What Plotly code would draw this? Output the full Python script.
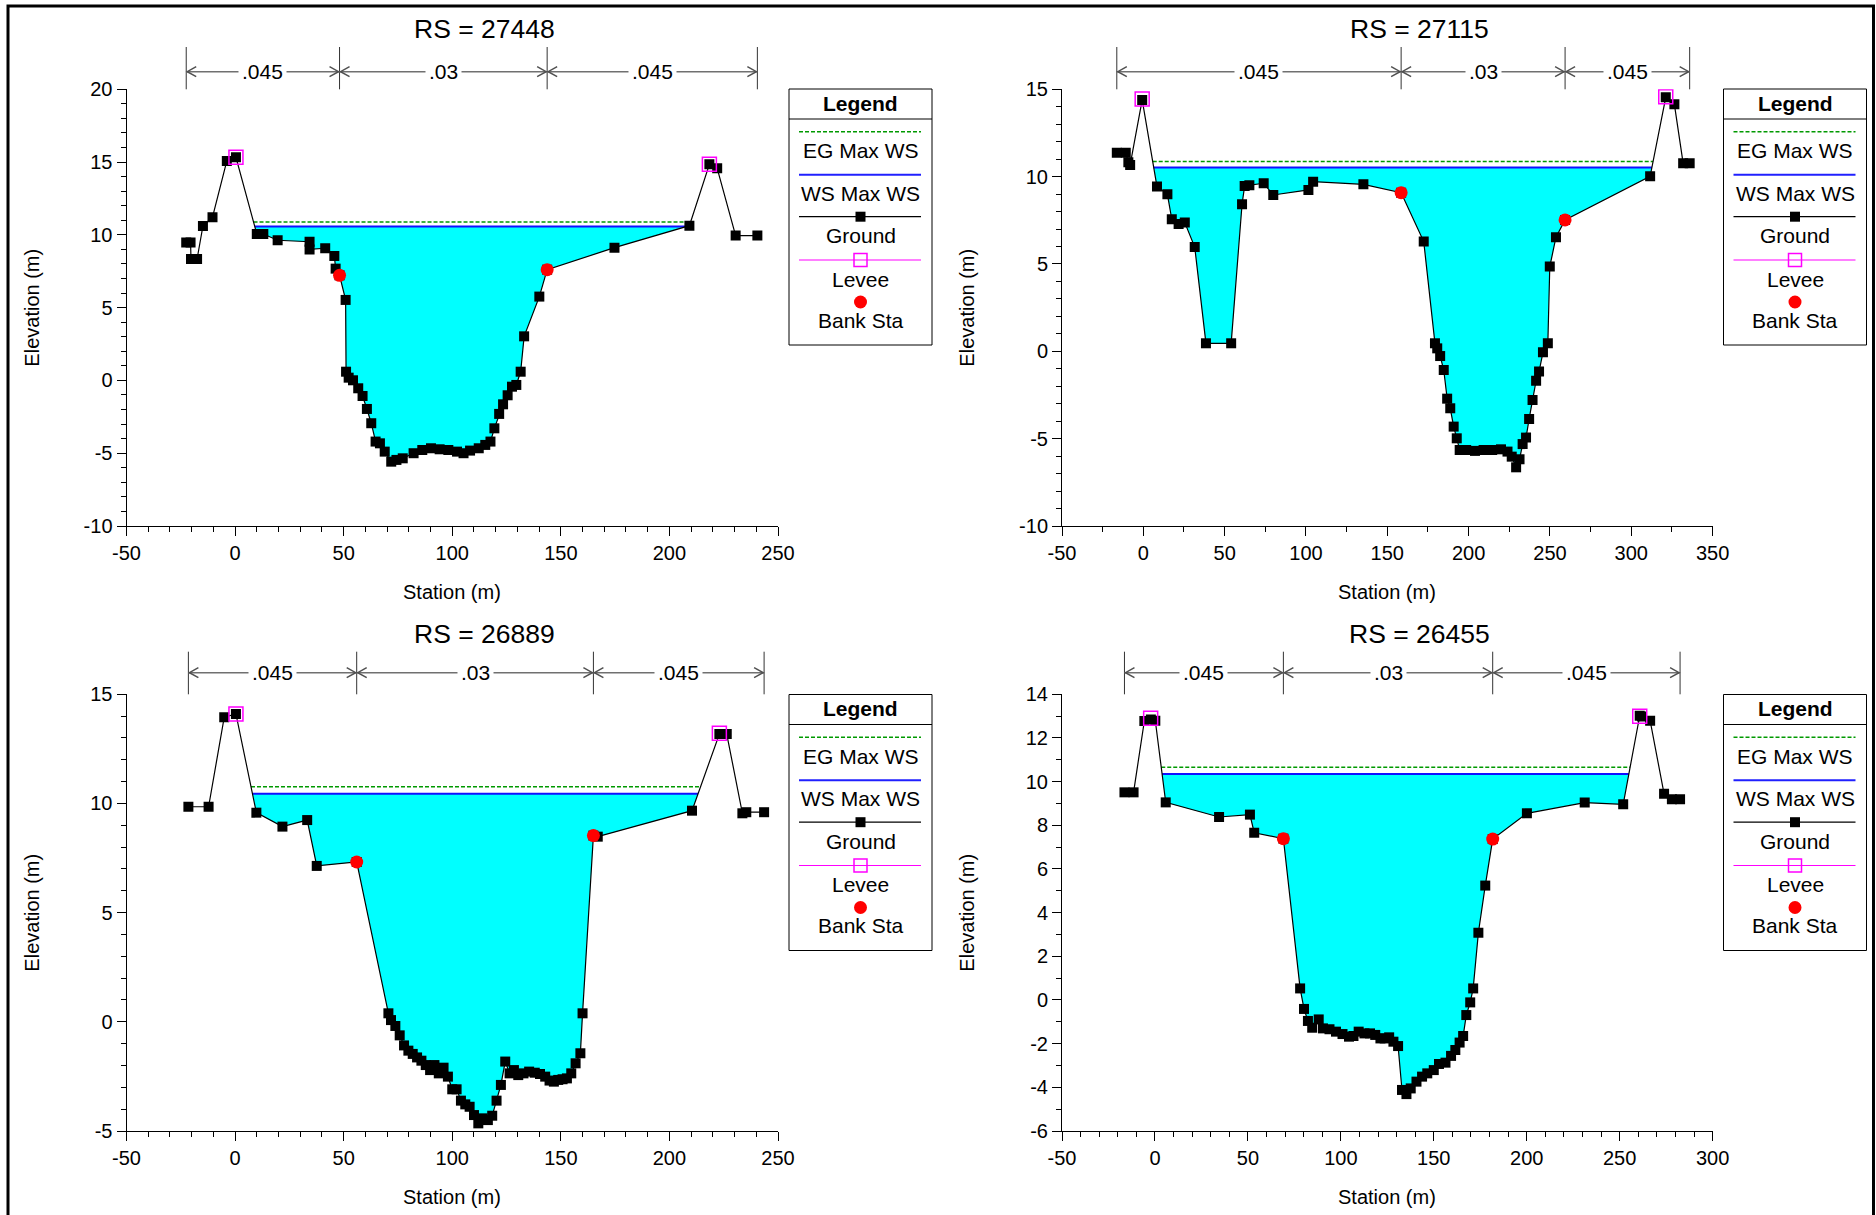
import numpy as np
import plotly.graph_objects as go

W, H = 1876, 1215
FONT = "Arial, 'Liberation Sans', sans-serif"

# ---------------- data ----------------
titles = ["RS = 27448", "RS = 27115", "RS = 26889", "RS = 26455"]
n_values = [".045", ".03", ".045"]
legend_labels = ["EG Max WS", "WS Max WS", "Ground", "Levee", "Bank Sta"]

# RS 27448
sta_27448 = [-22.5, -20.5, -20.3, -17.5, -14.8, -10.4, -3.8, 0.4, 10.0, 13.0, 19.6, 34.3, 34.3, 41.5, 45.7,
             46.3, 48.1, 50.9, 51.1, 52.3, 54.3, 56.7, 58.7, 60.7, 62.7, 64.7, 66.7, 68.9, 71.9, 74.3, 77.2,
             82.2, 86.2, 90.2, 94.2, 98.2, 102.2, 105.2, 108.2, 112.2, 115.2, 117.6, 119.4, 121.6, 123.4,
             125.5, 127.5, 129.5, 131.5, 133.1, 140.1, 143.7, 174.7, 209.2, 218.4, 222.0, 230.5, 240.5]
elev_27448 = [9.47, 9.47, 8.34, 8.34, 10.61, 11.21, 15.08, 15.33, 10.06, 10.06, 9.63, 9.53, 9.00, 9.08, 8.55,
              7.68, 7.22, 5.53, 0.60, 0.19, 0.01, -0.54, -1.07, -1.96, -2.94, -4.20, -4.32, -4.89, -5.58,
              -5.46, -5.35, -5.00, -4.78, -4.66, -4.73, -4.78, -4.89, -5.00, -4.82, -4.66, -4.43, -4.20,
              -3.29, -2.30, -1.64, -1.02, -0.43, -0.31, 0.60, 3.03, 5.76, 7.61, 9.12, 10.63, 14.85, 14.57,
              9.95, 9.95]
levee_sta_27448 = [0.4, 218.4]
levee_elev_27448 = [15.33, 14.85]
bank_sta_27448 = [48.1, 143.7]
ws_27448 = 10.57
eg_27448 = 10.89

# RS 27115
sta_27115 = [-16.3, -10.8, -9.2, -8.1, -0.7, 8.4, 14.8, 17.5, 21.7, 25.5, 31.6, 38.5, 54.0, 60.7, 62.3, 65.2,
             74.0, 79.9, 101.5, 104.4, 135.3, 158.5, 172.4, 179.3, 180.7, 182.5, 184.7, 186.8, 188.7, 190.8,
             192.7, 194.5, 198.5, 203.9, 209.2, 214.5, 219.9, 223.9, 226.5, 229.2, 231.3, 233.2, 235.3,
             237.2, 239.3, 241.5, 243.3, 245.7, 248.7, 249.9, 253.7, 259.3, 311.6, 321.2, 326.5, 331.9, 335.9]
elev_27115 = [11.37, 11.37, 10.82, 10.67, 14.39, 9.43, 8.99, 7.56, 7.29, 7.37, 5.97, 0.46, 0.46, 8.42, 9.47,
              9.50, 9.62, 8.95, 9.24, 9.71, 9.56, 9.08, 6.28, 0.46, 0.17, -0.27, -1.07, -2.71, -3.26, -4.31,
              -4.98, -5.65, -5.65, -5.70, -5.65, -5.65, -5.61, -5.74, -6.03, -6.64, -6.18, -5.31, -4.94,
              -3.87, -2.79, -1.68, -1.16, -0.06, 0.46, 4.85, 6.53, 7.52, 10.02, 14.54, 14.14, 10.76, 10.76]
levee_sta_27115 = [-0.7, 321.2]
levee_elev_27115 = [14.45, 14.58]
bank_sta_27115 = [158.5, 259.3]
ws_27115 = 10.53
eg_27115 = 10.86

# RS 26889
sta_26889 = [-21.5, -12.2, -5.0, 0.4, 9.8, 21.8, 33.2, 37.6, 56.0, 70.6, 71.8, 73.8, 75.8, 77.8, 79.8, 81.8,
             83.8, 85.8, 87.8, 89.8, 91.8, 93.8, 96.0, 98.0, 100.0, 102.0, 104.0, 106.0, 108.0, 110.0,
             112.0, 114.0, 116.4, 118.4, 120.4, 122.4, 124.4, 126.4, 128.4, 130.4, 132.8, 135.4, 138.0,
             140.4, 142.8, 144.8, 146.8, 148.8, 150.8, 152.8, 154.8, 156.8, 159.0, 160.0, 165.0, 167.0,
             210.4, 223.0, 226.4, 233.6, 235.4, 243.6]
elev_26889 = [9.85, 9.85, 13.95, 14.10, 9.58, 8.94, 9.24, 7.14, 7.32, 0.39, 0.08, -0.19, -0.62, -1.08, -1.32,
              -1.47, -1.63, -1.78, -1.98, -2.21, -1.98, -2.36, -2.10, -2.51, -3.09, -3.09, -3.61, -3.78,
              -3.89, -4.27, -4.65, -4.42, -4.50, -4.30, -3.61, -2.89, -1.82, -2.36, -2.21, -2.44, -2.36,
              -2.28, -2.33, -2.39, -2.51, -2.69, -2.74, -2.66, -2.63, -2.59, -2.36, -1.90, -1.44, 0.39,
              8.53, 8.48, 9.67, 13.18, 13.18, 9.55, 9.60, 9.60]
levee_sta_26889 = [0.4, 223.0]
levee_elev_26889 = [14.10, 13.22]
bank_sta_26889 = [56.0, 165.0]
ws_26889 = 10.44
eg_26889 = 10.77

# RS 26455
sta_26455 = [-16.4, -11.5, -5.7, -2.2, 0.2, 5.8, 34.5, 51.1, 53.4, 69.1, 78.1, 80.2, 82.3, 84.6, 88.1, 90.4,
             93.9, 97.4, 100.9, 104.4, 106.8, 109.6, 112.7, 115.7, 118.5, 121.3, 123.6, 126.0, 128.3, 130.8,
             132.9, 135.3, 137.6, 140.7, 143.7, 146.5, 150.0, 152.8, 156.3, 159.3, 161.6, 163.9, 165.8,
             167.5, 169.6, 171.2, 174.0, 177.7, 181.7, 200.1, 231.2, 251.9, 260.8, 262.0, 266.4, 273.9,
             278.1, 282.5]
elev_26455 = [9.51, 9.51, 12.78, 12.85, 12.79, 9.05, 8.38, 8.49, 7.66, 7.39, 0.53, -0.41, -0.96, -1.27,
              -0.89, -1.30, -1.34, -1.45, -1.56, -1.68, -1.65, -1.45, -1.53, -1.53, -1.60, -1.76, -1.76,
              -1.71, -1.91, -2.11, -4.12, -4.31, -4.05, -3.74, -3.51, -3.36, -3.21, -2.93, -2.87, -2.56,
              -2.29, -1.95, -1.65, -0.69, -0.11, 0.53, 3.08, 5.24, 7.37, 8.55, 9.04, 8.96, 13.02, 12.98,
              12.79, 9.44, 9.19, 9.19]
levee_sta_26455 = [-2.3, 260.8]
levee_elev_26455 = [12.9, 13.0]
bank_sta_26455 = [69.1, 181.7]
ws_26455 = 10.35
eg_26455 = 10.66

# tick values (labels written with a plain hyphen, as in the original)
x_ticks_27448 = [-50, 0, 50, 100, 150, 200, 250]
x_ticks_27115 = [-50, 0, 50, 100, 150, 200, 250, 300, 350]
x_ticks_26889 = [-50, 0, 50, 100, 150, 200, 250]
x_ticks_26455 = [-50, 0, 50, 100, 150, 200, 250, 300]
y_ticks_27448 = [-10, -5, 0, 5, 10, 15, 20]
y_ticks_27115 = [-10, -5, 0, 5, 10, 15]
y_ticks_26889 = [-5, 0, 5, 10, 15]
y_ticks_26455 = [-6, -4, -2, 0, 2, 4, 6, 8, 10, 12, 14]

x_ranges = [[-50, 250], [-50, 350], [-50, 250], [-50, 300]]
x_minor = [10, 25, 10, 10]
y_ranges = [[-10, 20], [-10, 15], [-5, 15], [-6, 14]]
x_ticks = [x_ticks_27448, x_ticks_27115, x_ticks_26889, x_ticks_26455]
y_ticks = [y_ticks_27448, y_ticks_27115, y_ticks_26889, y_ticks_26455]

panels = [
    (sta_27448, elev_27448, levee_sta_27448, levee_elev_27448, bank_sta_27448, ws_27448, eg_27448),
    (sta_27115, elev_27115, levee_sta_27115, levee_elev_27115, bank_sta_27115, ws_27115, eg_27115),
    (sta_26889, elev_26889, levee_sta_26889, levee_elev_26889, bank_sta_26889, ws_26889, eg_26889),
    (sta_26455, elev_26455, levee_sta_26455, levee_elev_26455, bank_sta_26455, ws_26455, eg_26455),
]

# ---------------- layout geometry (pixels) ----------------
col_x = [(126.5, 778.0), (1062.0, 1712.6)]
row_top = [89.3, 694.3]
row_bot = [526.0, 1131.0]
title_y = [28.5, 634.0]
arrow_y = [71.7, 672.7]
vline_top = [47.0, 651.7]
COL_DX = 935.0
LEG_DY = 605.5


def px(x):
    return x / W


def py(y):
    return 1 - y / H


def wet_extent(sta, elev, level):
    sta = np.asarray(sta, float)
    elev = np.asarray(elev, float)
    i0 = int(np.argmin(elev))
    i = i0
    while i > 0 and elev[i - 1] < level:
        i -= 1
    a, b = i - 1, i
    xl = sta[a] + (level - elev[a]) * (sta[b] - sta[a]) / (elev[b] - elev[a])
    j = i0
    while j < len(sta) - 1 and elev[j + 1] < level:
        j += 1
    a, b = j, j + 1
    xr = sta[a] + (level - elev[a]) * (sta[b] - sta[a]) / (elev[b] - elev[a])
    return xl, xr, i, j


fig = go.Figure()
shapes = []
annotations = []
layout_axes = {}

for k, (sta, elev, lsta, lelev, bsta, ws, eg) in enumerate(panels):
    col, row = k % 2, k // 2
    s = "" if k == 0 else str(k + 1)
    xa, ya = "x" + s, "y" + s
    x0, x1 = col_x[col]
    layout_axes["xaxis" + s] = dict(
        domain=[px(x0), px(x1)], range=x_ranges[k], anchor=ya, showline=True, linecolor="black",
        linewidth=1, ticks="outside", ticklen=9, tickwidth=1, tickcolor="black",
        tickmode="array", tickvals=x_ticks[k], ticktext=[str(v) for v in x_ticks[k]],
        minor=dict(tickmode="linear", dtick=x_minor[k], tick0=0, ticks="outside", ticklen=5,
                   tickcolor="black", tickwidth=1),
        showgrid=False, zeroline=False, fixedrange=True, automargin=False,
        tickfont=dict(size=20, color="black", family=FONT))
    layout_axes["yaxis" + s] = dict(
        domain=[py(row_bot[row]), py(row_top[row])], range=y_ranges[k], anchor=xa, showline=True,
        linecolor="black", linewidth=1, ticks="outside", ticklen=9, tickwidth=1, tickcolor="black",
        tickmode="array", tickvals=y_ticks[k], ticktext=[str(v) for v in y_ticks[k]],
        minor=dict(tickmode="linear", dtick=1, tick0=0, ticks="outside", ticklen=5, tickcolor="black",
                   tickwidth=1),
        showgrid=False, zeroline=False, fixedrange=True, automargin=False,
        tickfont=dict(size=20, color="black", family=FONT))

    sta_a = np.asarray(sta, float)
    elev_a = np.asarray(elev, float)
    wl, wr, i, j = wet_extent(sta, elev, ws)
    el, er, _, _ = wet_extent(sta, elev, eg)

    # water fill
    poly_x = [wl] + list(sta_a[i:j + 1]) + [wr]
    poly_y = [ws] + list(elev_a[i:j + 1]) + [ws]
    fig.add_trace(go.Scatter(x=poly_x, y=poly_y, fill="toself", fillcolor="#00FFFF", mode="lines",
                             line=dict(width=0, color="#00FFFF"), hoverinfo="skip", showlegend=False,
                             xaxis=xa, yaxis=ya))
    # WS
    fig.add_trace(go.Scatter(x=[wl, wr], y=[ws, ws], mode="lines", line=dict(color="#1010FF", width=2),
                             showlegend=False, xaxis=xa, yaxis=ya))
    # EG
    fig.add_trace(go.Scatter(x=[el, er], y=[eg, eg], mode="lines",
                             line=dict(color="#009900", width=1.5, dash="4px,2px"),
                             showlegend=False, xaxis=xa, yaxis=ya))
    # Ground
    fig.add_trace(go.Scatter(x=sta, y=elev, mode="lines+markers", line=dict(color="black", width=1.2),
                             marker=dict(symbol="square", size=10, color="black"),
                             showlegend=False, xaxis=xa, yaxis=ya))
    # Levee
    fig.add_trace(go.Scatter(x=lsta, y=lelev, mode="markers",
                             marker=dict(symbol="square-open", size=14, color="#FF00FF", line=dict(width=1.5)),
                             showlegend=False, xaxis=xa, yaxis=ya))
    # Bank stations
    bank_elev = np.interp(bsta, sta_a, elev_a)
    fig.add_trace(go.Scatter(x=bsta, y=bank_elev, mode="markers",
                             marker=dict(symbol="circle", size=13, color="#FF0000"),
                             showlegend=False, xaxis=xa, yaxis=ya))

    # Manning's n bar
    bounds = [sta[0], bsta[0], bsta[1], sta[-1]]
    ay = py(arrow_y[row])
    for b in bounds:
        shapes.append(dict(type="line", xref=xa, yref="paper", x0=b, x1=b, y0=py(row_top[row]),
                           y1=py(vline_top[row]), line=dict(color="#333333", width=1)))
    shapes.append(dict(type="line", xref=xa, yref="paper", x0=bounds[0], x1=bounds[-1], y0=ay, y1=ay,
                       line=dict(color="#707070", width=1.5)))
    for a_, b_ in zip(bounds[:-1], bounds[1:]):
        shapes.append(dict(type="path", xref=xa, yref="paper", xsizemode="pixel", ysizemode="pixel",
                           xanchor=a_, yanchor=ay, path="M 10,5 L 1,0 L 10,-5",
                           line=dict(color="#505050", width=1.5)))
        shapes.append(dict(type="path", xref=xa, yref="paper", xsizemode="pixel", ysizemode="pixel",
                           xanchor=b_, yanchor=ay, path="M -10,5 L -1,0 L -10,-5",
                           line=dict(color="#505050", width=1.5)))
    for n, a_, b_ in zip(n_values, bounds[:-1], bounds[1:]):
        annotations.append(dict(xref=xa, yref="paper", x=(a_ + b_) / 2, y=ay, text=n, showarrow=False,
                                bgcolor="white", borderpad=3, xanchor="center", yanchor="middle",
                                font=dict(size=21, color="black", family=FONT)))

    # title
    annotations.append(dict(xref="paper", yref="paper", x=px(484 + col * COL_DX), y=py(title_y[row]),
                            text=titles[k], showarrow=False, xanchor="center", yanchor="middle",
                            font=dict(size=26.5, color="black", family=FONT)))
    # axis titles
    annotations.append(dict(xref="paper", yref="paper", x=px((x0 + x1) / 2), y=py(row_bot[row] + 66),
                            text="Station (m)", showarrow=False, xanchor="center", yanchor="middle",
                            font=dict(size=20, color="black", family=FONT)))
    annotations.append(dict(xref="paper", yref="paper", x=px(32 + col * COL_DX),
                            y=py((row_top[row] + row_bot[row]) / 2), text="Elevation (m)", textangle=-90,
                            showarrow=False, xanchor="center", yanchor="middle",
                            font=dict(size=20, color="black", family=FONT)))

    # custom legend box
    dx = col * 934.5
    dy = row * LEG_DY
    lx0, lx1 = 789 + dx, 932 + dx
    cx = (lx0 + lx1) / 2
    shapes.append(dict(type="rect", xref="paper", yref="paper", x0=px(lx0), x1=px(lx1), y0=py(345 + dy),
                       y1=py(89 + dy), line=dict(color="black", width=1), fillcolor="white", layer="below"))
    shapes.append(dict(type="line", xref="paper", yref="paper", x0=px(lx0), x1=px(lx1), y0=py(119 + dy),
                       y1=py(119 + dy), line=dict(color="black", width=1)))
    annotations.append(dict(xref="paper", yref="paper", x=px(cx), y=py(103 + dy), text="<b>Legend</b>",
                            showarrow=False, xanchor="center", yanchor="middle",
                            font=dict(size=21, color="black", family=FONT)))
    line_ys = [131.7, 174.7, 216.7, 260.0]
    line_styles = [dict(color="#009900", width=1.5, dash="4px,2px"), dict(color="#2020FF", width=2),
                   dict(color="black", width=1.2), dict(color="#FF00FF", width=1.2)]
    for ly, st in zip(line_ys, line_styles):
        shapes.append(dict(type="line", xref="paper", yref="paper", x0=px(799 + dx), x1=px(921 + dx),
                           y0=py(ly + dy), y1=py(ly + dy), line=st))
    shapes.append(dict(type="rect", xref="paper", yref="paper", x0=px(cx - 5), x1=px(cx + 5),
                       y0=py(216.7 + dy + 5), y1=py(216.7 + dy - 5), fillcolor="black",
                       line=dict(width=0)))
    shapes.append(dict(type="rect", xref="paper", yref="paper", x0=px(cx - 6.5), x1=px(cx + 6.5),
                       y0=py(260 + dy + 6.5), y1=py(260 + dy - 6.5), fillcolor="rgba(0,0,0,0)",
                       line=dict(color="#FF00FF", width=1.5)))
    shapes.append(dict(type="circle", xref="paper", yref="paper", x0=px(cx - 6.5), x1=px(cx + 6.5),
                       y0=py(302 + dy + 6.5), y1=py(302 + dy - 6.5), fillcolor="#FF0000",
                       line=dict(width=0)))
    text_ys = [150.7, 193.0, 235.7, 279.3, 320.0]
    for t, ty in zip(legend_labels, text_ys):
        annotations.append(dict(xref="paper", yref="paper", x=px(cx), y=py(ty + dy), text=t,
                                showarrow=False, xanchor="center", yanchor="middle",
                                font=dict(size=21, color="black", family=FONT)))

# outer frame
shapes.append(dict(type="rect", xref="paper", yref="paper", x0=px(8), x1=px(1873.5), y0=py(1240),
                   y1=py(6), line=dict(color="black", width=3)))

fig.update_layout(
    width=W, height=H, autosize=False,
    margin=dict(l=0, r=0, t=0, b=0, pad=0, autoexpand=False),
    paper_bgcolor="white", plot_bgcolor="white",
    showlegend=False, shapes=shapes, annotations=annotations, font=dict(family=FONT, color="black"),
    **layout_axes)

fig.write_html("out.html", config={"displayModeBar": False, "responsive": False},
               post_script="document.body.style.margin='0';document.body.style.padding='0';"
                           "document.body.style.overflow='hidden';")
